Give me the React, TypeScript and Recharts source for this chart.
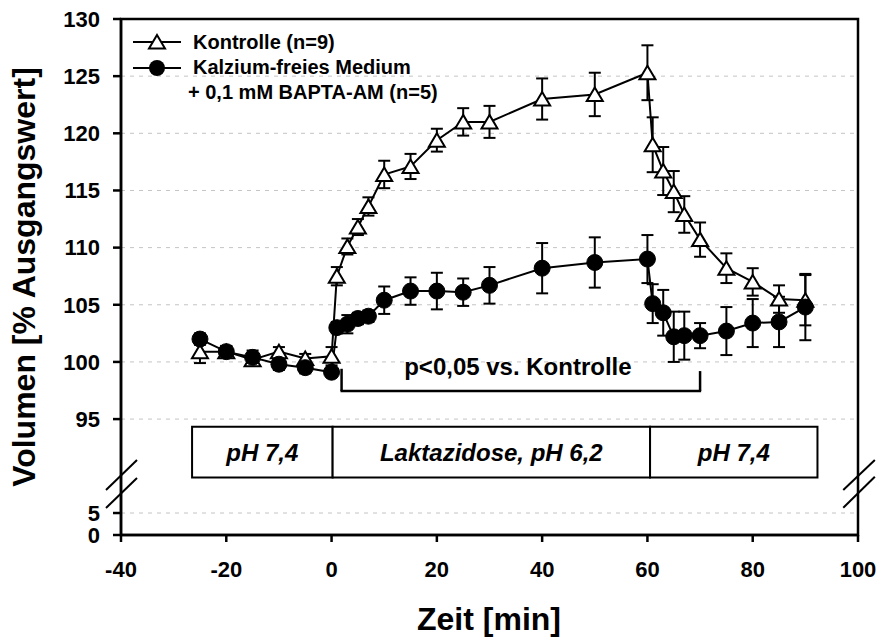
import React from 'react';
import {
  LineChart,
  Line,
  XAxis,
  YAxis,
  CartesianGrid,
  ErrorBar,
  ReferenceArea,
  ReferenceLine,
  ReferenceDot,
  Legend,
} from 'recharts';

const FONT = '"Liberation Sans", Arial, Helvetica, sans-serif';

// ---- data ----
const times = [-25, -20, -15, -10, -5, 0, 1, 3, 5, 7, 10, 15, 20, 25, 30, 40, 50, 60, 61, 63, 65, 67, 70, 75, 80, 85, 90];
const kontrolle = [100.9, 100.9, 100.2, 100.9, 100.3, 100.5, 107.5, 110.1, 111.8, 113.6, 116.4, 117.1, 119.4, 121.0, 121.0, 123.0, 123.4, 125.3, 119.0, 116.7, 114.9, 112.9, 110.7, 108.2, 107.0, 105.5, 105.4];
const kontrolleSem = [1.0, 0.5, 0.5, 0.4, 0.4, 0.8, 0.8, 0.7, 0.7, 0.8, 1.2, 1.1, 1.0, 1.2, 1.4, 1.8, 1.9, 2.4, 2.4, 2.1, 1.8, 1.6, 1.5, 1.3, 1.2, 1.2, 2.2];
const bapta = [102.0, 100.9, 100.4, 99.8, 99.5, 99.1, 103.0, 103.3, 103.8, 104.0, 105.4, 106.2, 106.2, 106.1, 106.7, 108.2, 108.7, 109.0, 105.1, 104.3, 102.2, 102.3, 102.3, 102.7, 103.4, 103.5, 104.8];
const baptaSem = [0.5, 0.5, 0.6, 0.5, 0.5, 0.3, 0.5, 0.8, 0.5, 0.5, 1.2, 1.2, 1.6, 1.2, 1.6, 2.2, 2.2, 2.1, 1.7, 2.0, 2.2, 2.1, 1.1, 2.1, 2.1, 2.2, 2.9];

const seriesNames = ['Kontrolle (n=9)', 'Kalzium-freies Medium', '+ 0,1 mM BAPTA-AM (n=5)'];

const xTicks = [-40, -20, 0, 20, 40, 60, 80, 100];
const yTickValues = [0, 5, 95, 100, 105, 110, 115, 120, 125, 130];

// phases (time intervals) and their labels
const phaseBounds = [-26.5, 0.2, 60.5, 92.3];
const phaseLabels = ['pH 7,4', 'Laktazidose, pH 6,2', 'pH 7,4'];

// significance bracket
const sigRange = [1.9, 70.0];
const sigLabel = 'p<0,05 vs. Kontrolle';

// ---- broken y axis (0-5 compressed, gap, 95-130) ----
const LOW_SCALE = 0.3846;
const BREAK_TOP = 95;
const BREAK_OFFSET = 10.14;
const tf = (v: number) => (v <= 5 ? v * LOW_SCALE : BREAK_OFFSET + (v - BREAK_TOP));
const Y_MAX = tf(130);
const yTicks = yTickValues.map(tf);
const yFmt = (t: number) => {
  const v = yTickValues.find((yv) => Math.abs(tf(yv) - t) < 1e-6);
  return v === undefined ? '' : String(v);
};

// positions of the phase box (inside the axis gap, axis units)
const BOX_BOTTOM = 5.04;
const BOX_TOP = 9.47;

// axis break marks (axis units)
const breakMarks = [
  [-42.85, 3.93, -36.96, 6.56],
  [-42.85, 2.36, -36.96, 4.98],
  [97.2, 3.93, 103.2, 6.56],
  [97.2, 2.39, 103.2, 5.1],
];

const data = times.map((t, i) => ({
  t,
  ctl: tf(kontrolle[i]),
  ctlErr: kontrolleSem[i],
  bap: tf(bapta[i]),
  bapErr: baptaSem[i],
}));

const triPath = (cx: number, cy: number) => `M${cx},${cy - 7} L${cx + 8},${cy + 6.5} L${cx - 8},${cy + 6.5} Z`;

const TriangleDot = (props: any) => {
  const { cx, cy, index } = props;
  if (cx == null || cy == null) return <g key={`tri-${index}`} />;
  return <path key={`tri-${index}`} d={triPath(cx, cy)} fill="#fff" stroke="#000" strokeWidth={2} strokeLinejoin="miter" />;
};

const CircleDot = (props: any) => {
  const { cx, cy, index } = props;
  if (cx == null || cy == null) return <g key={`cir-${index}`} />;
  return <circle key={`cir-${index}`} cx={cx} cy={cy} r={8} fill="#000" stroke="#000" strokeWidth={1} />;
};

const textStyle = { fontFamily: FONT, fontWeight: 'bold' as const, fill: '#000' };

const renderLegend = () => (
  <svg width={330} height={90} style={{ overflow: 'visible', display: 'block' }}>
    <line x1={8} y1={17} x2={56} y2={17} stroke="#000" strokeWidth={2} />
    <path d={triPath(32, 17)} fill="#fff" stroke="#000" strokeWidth={2} />
    <text x={68} y={24} fontSize={20} {...textStyle}>{seriesNames[0]}</text>
    <line x1={8} y1={43} x2={56} y2={43} stroke="#000" strokeWidth={2} />
    <circle cx={32} cy={43} r={8} fill="#000" />
    <text x={68} y={49} fontSize={20} {...textStyle}>{seriesNames[1]}</text>
    <text x={63} y={74} fontSize={20} {...textStyle}>{seriesNames[2]}</text>
  </svg>
);

const YTitle = () => (
  <text x={35} y={277} transform="rotate(-90 35 277)" textAnchor="middle" fontSize={32} {...textStyle}>
    Volumen [% Ausgangswert]
  </text>
);

const XTitle = () => (
  <text x={489} y={630} textAnchor="middle" fontSize={32} {...textStyle}>
    Zeit [min]
  </text>
);

export default function App() {
  return (
    <div style={{ position: 'absolute', left: 0, top: 0, width: 880, height: 639, background: '#fff' }}>
      <LineChart width={880} height={639} data={data} margin={{ top: 19, right: 22, bottom: 44, left: 0 }}>
        <CartesianGrid vertical={false} stroke="#c4c4c4" strokeDasharray="4 5" strokeWidth={1} />
        <XAxis
          type="number"
          dataKey="t"
          domain={[-40, 100]}
          ticks={xTicks}
          interval={0}
          height={60}
          tickSize={7}
          tickMargin={19}
          axisLine={{ stroke: '#000', strokeWidth: 2.5 }}
          tickLine={{ stroke: '#000', strokeWidth: 2.5 }}
          tick={{ fontSize: 22, fontWeight: 'bold', fontFamily: FONT, fill: '#000' }}
          label={{ content: XTitle }}
        />
        <YAxis
          type="number"
          domain={[0, Y_MAX]}
          ticks={yTicks}
          interval={0}
          allowDataOverflow
          width={121}
          tickSize={8}
          tickMargin={13}
          tickFormatter={yFmt}
          axisLine={{ stroke: '#000', strokeWidth: 2.5 }}
          tickLine={{ stroke: '#000', strokeWidth: 2.5 }}
          tick={{ fontSize: 22, fontWeight: 'bold', fontFamily: FONT, fill: '#000' }}
          label={{ content: YTitle }}
        />
        <ReferenceArea x1={-40} x2={100} y1={0} y2={Y_MAX} fill="none" fillOpacity={0} stroke="#000" strokeWidth={2.5} />
        {phaseLabels.map((lab, i) => (
          <ReferenceArea
            key={`ph-${i}`}
            x1={phaseBounds[i]}
            x2={phaseBounds[i + 1]}
            y1={BOX_BOTTOM}
            y2={BOX_TOP}
            fill="#fff"
            fillOpacity={1}
            stroke="#000"
            strokeWidth={2}
            label={{
              value: lab,
              position: 'center',
              fill: '#000',
              fontSize: 24,
              fontWeight: 'bold',
              fontStyle: 'italic',
              fontFamily: FONT,
            }}
          />
        ))}
        <ReferenceLine
          segment={[{ x: sigRange[0], y: tf(99.4) }, { x: sigRange[0], y: tf(97.45) }]}
          stroke="#000"
          strokeWidth={2.5}
          ifOverflow="visible"
        />
        <ReferenceLine
          segment={[{ x: sigRange[0] - 0.2, y: tf(97.45) }, { x: sigRange[1] + 0.2, y: tf(97.45) }]}
          stroke="#000"
          strokeWidth={2.5}
          ifOverflow="visible"
        />
        <ReferenceLine
          segment={[{ x: sigRange[1], y: tf(99.2) }, { x: sigRange[1], y: tf(97.45) }]}
          stroke="#000"
          strokeWidth={2.5}
          ifOverflow="visible"
        />
        <ReferenceDot
          x={35.4}
          y={tf(99.56)}
          r={0}
          fill="none"
          stroke="none"
          ifOverflow="visible"
          label={{ value: sigLabel, position: 'center', fill: '#000', fontSize: 24, fontWeight: 'bold', fontFamily: FONT }}
        />
        {breakMarks.map((b, i) => (
          <ReferenceLine
            key={`br-${i}`}
            segment={[{ x: b[0], y: b[1] }, { x: b[2], y: b[3] }]}
            stroke="#000"
            strokeWidth={2}
            ifOverflow="visible"
          />
        ))}
        <Line
          type="linear"
          dataKey="ctl"
          name={seriesNames[0]}
          stroke="#000"
          strokeWidth={2}
          dot={TriangleDot}
          activeDot={false}
          isAnimationActive={false}
        >
          <ErrorBar dataKey="ctlErr" width={6} stroke="#000" strokeWidth={2} direction="y" isAnimationActive={false} />
        </Line>
        <Line
          type="linear"
          dataKey="bap"
          name={seriesNames[1]}
          stroke="#000"
          strokeWidth={2}
          dot={CircleDot}
          activeDot={false}
          isAnimationActive={false}
        >
          <ErrorBar dataKey="bapErr" width={6} stroke="#000" strokeWidth={2} direction="y" isAnimationActive={false} />
        </Line>
        <Legend
          layout="vertical"
          align="center"
          verticalAlign="middle"
          content={renderLegend}
          wrapperStyle={{ left: 125, top: 25, width: 330, height: 90 }}
        />
      </LineChart>
    </div>
  );
}
